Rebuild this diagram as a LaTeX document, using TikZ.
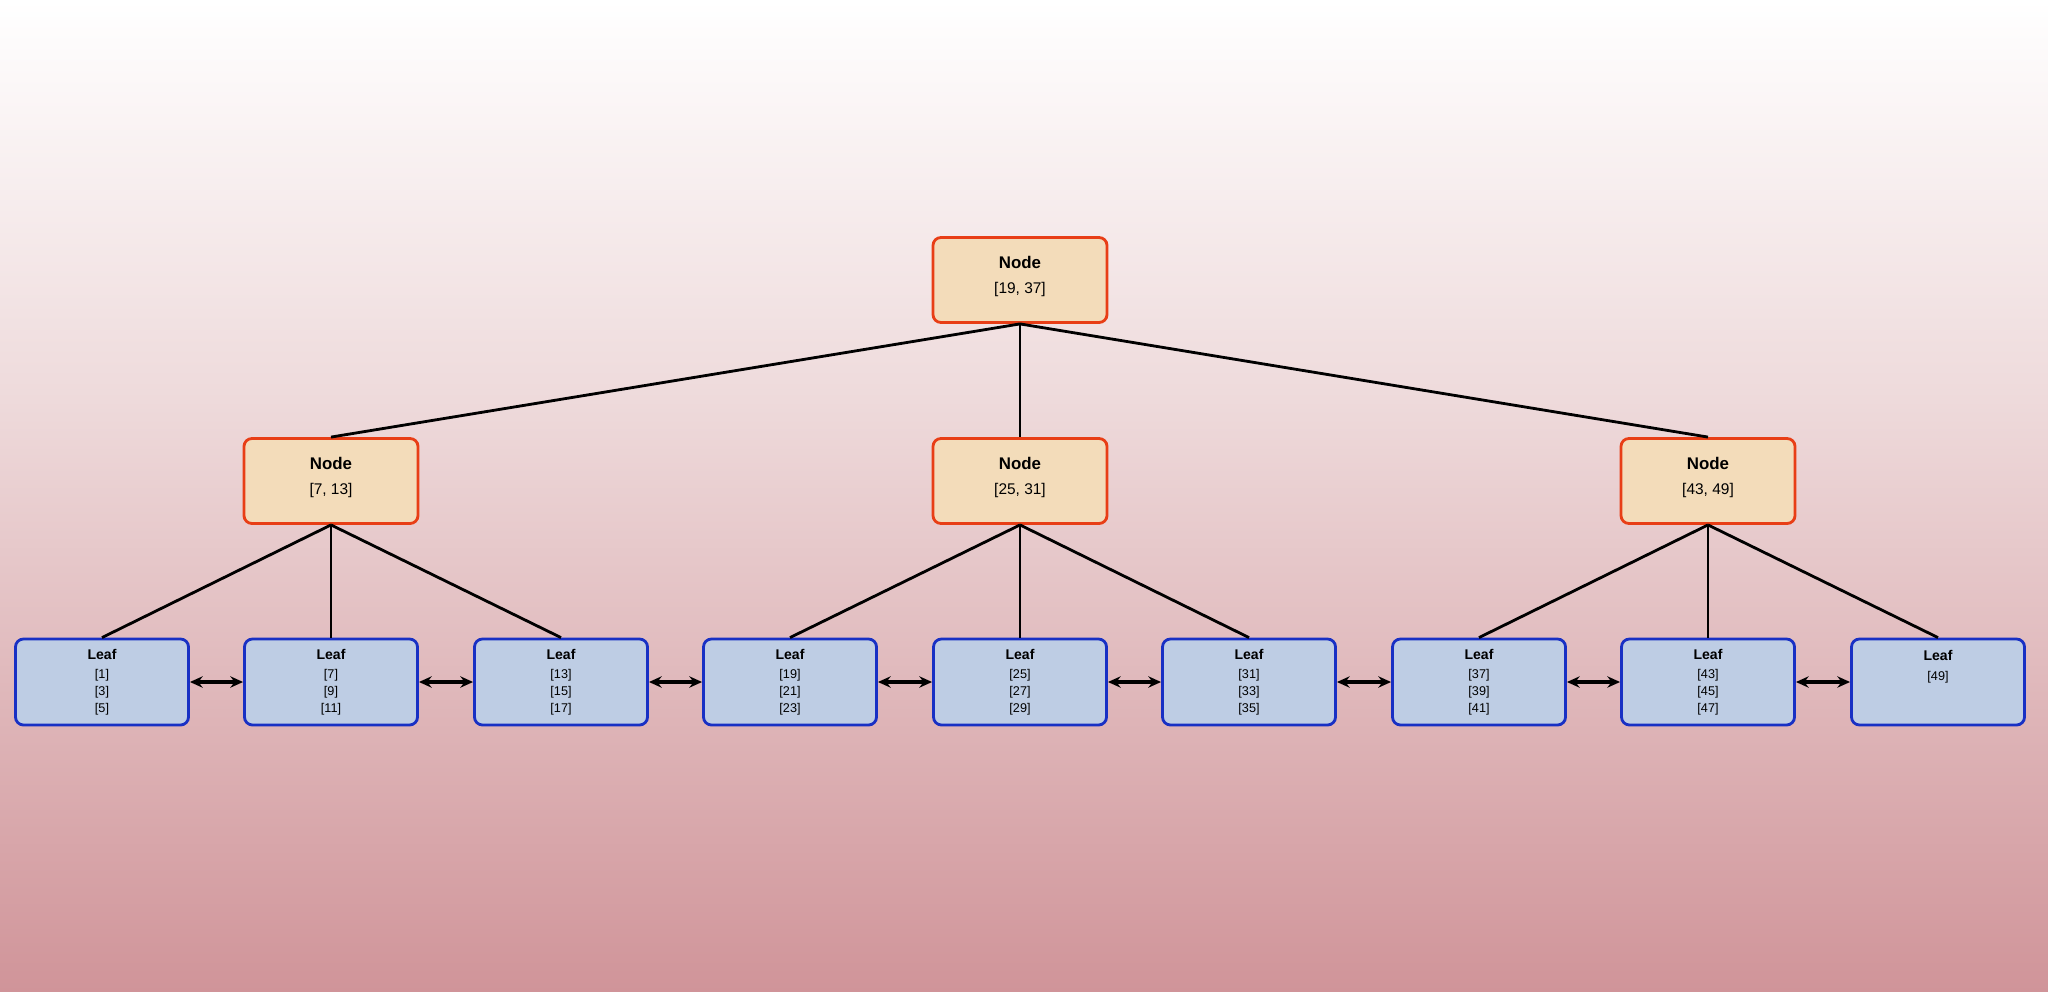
\documentclass[tikz,border=0pt]{standalone}
\usepackage{fontspec}
\setmainfont{Liberation Sans}
\usetikzlibrary{arrows.meta}
\usetikzlibrary{positioning}

\definecolor{bgmid}{RGB}{238,218,219}
\definecolor{bgred}{RGB}{208,148,153}
\definecolor{nodefill}{RGB}{243,220,186}
\definecolor{nodeedge}{RGB}{232,62,22}
\definecolor{leaffill}{RGB}{190,205,228}
\definecolor{leafedge}{RGB}{24,48,196}

\begin{document}
\begin{tikzpicture}[x=0.025cm, y=-0.025cm,
    treenode/.style={draw=nodeedge, line width=2pt, fill=nodefill, rounded corners=0.2cm,
        minimum width=4.35cm, minimum height=2.125cm, align=center, inner sep=0pt,
        font=\fontsize{11}{13}\selectfont},
    leafnode/.style={draw=leafedge, line width=2pt, fill=leaffill, rounded corners=0.2cm,
        minimum width=4.325cm, minimum height=2.15cm, align=center, inner sep=0pt,
        font=\fontsize{9}{12}\selectfont},
    link/.style={line width=2pt, black},
    chain/.style={{Stealth[length=9pt, width=8pt]}-{Stealth[length=9pt, width=8pt]}, line width=2.2pt, black}]

        % background
        \fill[top color=white, bottom color=bgmid] (0,0) rectangle (2048,400);
        \fill[top color=bgmid, bottom color=bgred] (0,399) rectangle (2048,992);

        % inner nodes
        \node[treenode] (root) at (1020,280) {{\fontsize{12}{14}\selectfont\bfseries Node}\\[5pt] [19, 37]\\[-6pt]\mbox{}};
        \node[treenode] (n1) at (331,481) {{\fontsize{12}{14}\selectfont\bfseries Node}\\[5pt] [7, 13]\\[-6pt]\mbox{}};
        \node[treenode] (n2) at (1020,481) {{\fontsize{12}{14}\selectfont\bfseries Node}\\[5pt] [25, 31]\\[-6pt]\mbox{}};
        \node[treenode] (n3) at (1708,481) {{\fontsize{12}{14}\selectfont\bfseries Node}\\[5pt] [43, 49]\\[-6pt]\mbox{}};

        % leaves
        \foreach \i/\x/\a/\b/\c in {1/102/1/3/5, 2/331/7/9/11, 3/561/13/15/17, 4/790/19/21/23,
                                    5/1020/25/27/29, 6/1249/31/33/35, 7/1479/37/39/41, 8/1708/43/45/47} {
            \node[leafnode] (leaf\i) at (\x,682) {{\fontsize{10}{12}\selectfont\bfseries Leaf}\\[2pt] {[\a]}\\ {[\b]}\\ {[\c]}};
        }
        \node[leafnode] (leaf9) at (1938,682) {{\fontsize{10}{12}\selectfont\bfseries Leaf}\\[2pt] {[49]}\\ \mbox{}\\ \mbox{}};

        % tree links
        \foreach \n in {n1, n2, n3} {
            \draw[link] (root.south) -- (\n.north);
        }
        \foreach \n/\l in {n1/1, n1/2, n1/3, n2/4, n2/5, n2/6, n3/7, n3/8, n3/9} {
            \draw[link] (\n.south) -- (leaf\l.north);
        }

        % leaf chain
        \foreach \i [evaluate=\i as \j using int(\i+1)] in {1,...,8} {
            \draw[chain] (leaf\i.east) -- (leaf\j.west);
        }

\end{tikzpicture}
\end{document}
